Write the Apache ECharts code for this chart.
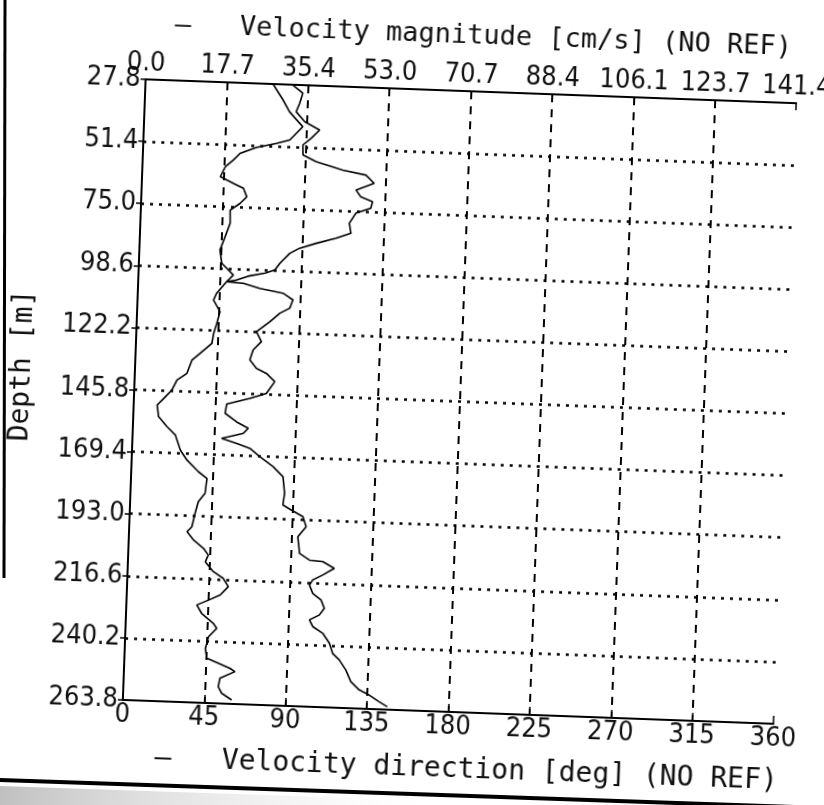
<!DOCTYPE html>
<html>
<head>
<meta charset="utf-8">
<script src="https://cdn.jsdelivr.net/npm/echarts@6/dist/echarts.min.js"></script>
<style>
html,body{margin:0;padding:0;background:#fff;overflow:hidden;}
#wrap{position:relative;width:824px;height:805px;overflow:hidden;background:#fff;}
#main{position:absolute;left:0;top:0;width:824px;height:805px;transform:rotate(2.1deg);transform-origin:457.6px 401.6px;}
#edge{position:absolute;left:0;top:0;width:824px;height:805px;pointer-events:none;}
</style>
</head>
<body>
<div id="wrap"><div id="main"></div><div id="edge"></div></div>
<script>
// ---- tick labels ----
const magTickLabels = ['0.0','17.7','35.4','53.0','70.7','88.4','106.1','123.7','141.4'];
const depthTickLabels = ['27.8','51.4','75.0','98.6','122.2','145.8','169.4','193.0','216.6','240.2','263.8'];
const dirMin = 0, dirMax = 360, dirStep = 45;

// ---- Velocity magnitude [cm/s] (top axis) ----
const magDepth = [27.8,33.7,38.1,43.6,48.8,50.3,52.1,54.6,57.2,59.9,63.7,66.1,67.8,71.0,73.6,76.3,81.3,86.5,91.6,96.6,
  100.9,103.5,108.1,110.7,115.0,119.5,123.3,127.1,131.1,133.8,138.9,141.6,145.4,148.7,151.3,155.7,159.4,162.5,168.1,171.8,
  176.1,178.5,184.2,187.5,191.9,197.1,199.0,202.1,205.1,207.6,210.2,213.8,216.2,219.3,222.6,224.7,226.7,229.8,233.4,235.3,
  238.6,243.1,246.8,248.0,250.3,251.5,254.2,257.5,259.9,262.3];
const magValues = [27.7,30.0,31.5,34.5,31.8,28.9,24.6,21.1,19.7,18.0,17.0,19.9,22.1,22.9,21.5,19.4,19.5,18.5,17.5,18.0,
  20.6,19.2,17.1,16.5,18.0,17.4,16.8,16.5,14.0,12.3,11.3,9.2,8.2,6.5,5.1,5.5,7.4,9.3,10.5,12.0,
  14.6,16.5,16.2,14.8,14.2,13.6,12.6,14.1,16.3,17.4,16.8,18.6,20.8,22.0,20.3,17.8,15.3,16.4,19.0,19.8,
  18.1,17.5,17.9,19.7,23.0,24.1,20.9,20.6,21.4,23.6];

// ---- Velocity direction [deg] (bottom axis) ----
const dirDepth = [27.9,30.9,34.8,38.0,41.7,44.6,47.9,50.5,54.3,56.7,59.5,61.1,64.1,66.9,69.4,71.1,73.6,75.7,79.6,83.4,
  85.5,87.7,89.8,91.9,95.8,98.4,99.7,101.1,102.8,103.5,103.9,105.6,107.1,109.5,112.7,114.8,118.1,122.1,125.8,129.1,
  132.9,136.0,137.8,140.8,145.4,147.5,150.0,153.5,156.6,158.9,160.9,163.1,164.8,166.5,169.5,173.1,176.8,183.1,187.5,189.3,
  191.7,195.5,199.4,205.7,208.1,208.5,210.9,213.6,215.6,217.6,220.7,223.1,226.2,228.8,230.8,233.3,235.7,239.4,243.2,245.6,
  249.3,253.7,256.7,258.5,260.9,262.7];
const dirValues = [81.6,87.2,85.6,83.9,88.8,97.2,92.7,88.3,88.5,95.9,110.8,123.7,128.4,118.5,121.3,127.9,127.1,118.9,115.5,116.6,
  108.5,97.6,88.5,83.2,77.9,75.3,70.0,60.7,54.2,48.9,58.1,67.4,80.3,85.9,84.3,78.9,73.6,66.4,69.3,64.9,
  63.3,67.1,72.7,77.5,73.1,64.1,51.4,50.7,57.2,63.8,61.1,49.3,57.7,65.1,70.8,78.3,84.0,85.2,84.5,89.2,
  95.8,97.8,93.4,94.7,100.3,107.7,114.2,107.9,102.5,100.8,102.8,107.5,109.5,106.9,101.5,103.5,109.1,113.0,115.0,118.8,
  122.6,125.6,130.4,136.0,141.6,146.3];

const magData = magDepth.map((d, i) => [magValues[i], d]);
const dirData = dirDepth.map((d, i) => [dirValues[i], d]);

const tickFont = '"Liberation Sans Narrow","DejaVu Sans Condensed","Liberation Sans",sans-serif';
const titleFont = '"DejaVu Sans Mono","Liberation Mono",monospace';
const ink = '#111';

const chart = echarts.init(document.getElementById('main'), null, {renderer: 'canvas'});
chart.setOption({
  animation: false,
  backgroundColor: '#fff',
  grid: {left: 130, top: 91, width: 655, height: 621, containLabel: false},
  xAxis: [
    {
      type: 'value', position: 'bottom', min: dirMin, max: dirMax, interval: dirStep,
      axisLine: {show: true, onZero: false, lineStyle: {color: '#000', width: 2}},
      axisTick: {show: true, inside: true, length: 8, lineStyle: {color: '#000', width: 1.5}},
      axisLabel: {color: ink, fontFamily: tickFont, fontSize: 27, margin: 1},
      splitLine: {show: true, showMinLine: false, showMaxLine: false,
        lineStyle: {color: '#000', type: [8, 7], width: 2}},
      name: '—   Velocity direction [deg] (NO REF)', nameLocation: 'middle', nameGap: 44,
      nameTextStyle: {color: ink, fontFamily: titleFont, fontSize: 28, padding: [0, 0, 0, 40]}
    },
    {
      type: 'value', position: 'top', min: 0, max: magTickLabels.length - 1, interval: 1,
      axisLine: {show: true, onZero: false, lineStyle: {color: '#000', width: 2}},
      axisTick: {show: true, inside: true, length: 7, lineStyle: {color: '#000', width: 1.5}},
      axisLabel: {color: ink, fontFamily: tickFont, fontSize: 27, margin: 3,
        formatter: v => magTickLabels[Math.round(v)]},
      splitLine: {show: false},
      name: '—   Velocity magnitude [cm/s] (NO REF)', nameLocation: 'middle', nameGap: 42,
      nameTextStyle: {color: ink, fontFamily: titleFont, fontSize: 27, padding: [0, 0, 0, 21]}
    },
    {
      type: 'value', position: 'top', show: false,
      min: 0, max: parseFloat(magTickLabels[magTickLabels.length - 1])
    }
  ],
  yAxis: [
    {
      type: 'value', position: 'left', inverse: true, min: 0, max: depthTickLabels.length - 1, interval: 1,
      axisLine: {show: true, onZero: false, lineStyle: {color: '#000', width: 2}},
      axisTick: {show: true, inside: false, length: 5, lineStyle: {color: '#000', width: 1.5}},
      axisLabel: {color: ink, fontFamily: tickFont, fontSize: 27, margin: 5,
        formatter: v => depthTickLabels[Math.round(v)]},
      splitLine: {show: true, showMinLine: false, showMaxLine: false,
        lineStyle: {color: '#000', type: [3, 6], width: 2.5}},
      name: 'Depth [m]', nameLocation: 'middle', nameGap: 98,
      nameTextStyle: {color: ink, fontFamily: titleFont, fontSize: 28, padding: [0, 0, 0, 40]}
    },
    {
      type: 'value', inverse: true, show: false,
      min: parseFloat(depthTickLabels[0]), max: parseFloat(depthTickLabels[depthTickLabels.length - 1])
    }
  ],
  series: [
    {
      name: 'Velocity magnitude', type: 'line', xAxisIndex: 2, yAxisIndex: 1,
      data: magData, showSymbol: false, symbol: 'none',
      lineStyle: {color: '#000', width: 1.6}
    },
    {
      name: 'Velocity direction', type: 'line', xAxisIndex: 0, yAxisIndex: 1,
      data: dirData, showSymbol: false, symbol: 'none',
      lineStyle: {color: '#000', width: 1.6}
    }
  ]
});

// scanned page edges
const edge = echarts.init(document.getElementById('edge'), null, {renderer: 'canvas'});
edge.setOption({
  backgroundColor: 'transparent',
  graphic: [
    {type: 'polygon', shape: {points: [[0, 786], [824, 814], [824, 830], [0, 830]]},
      style: {fill: new echarts.graphic.LinearGradient(0, 0, 1, 0, [
        {offset: 0, color: 'rgba(140,140,140,0.55)'},
        {offset: 0.35, color: 'rgba(210,210,210,0.25)'},
        {offset: 0.55, color: 'rgba(255,255,255,0)'}])}},
    {type: 'polyline', shape: {points: [[0, 780], [824, 808]]}, style: {stroke: '#000', lineWidth: 4}},
    {type: 'polyline', shape: {points: [[5, 0], [4, 578]]}, style: {stroke: '#000', lineWidth: 3}}
  ]
});
</script>
</body>
</html>
